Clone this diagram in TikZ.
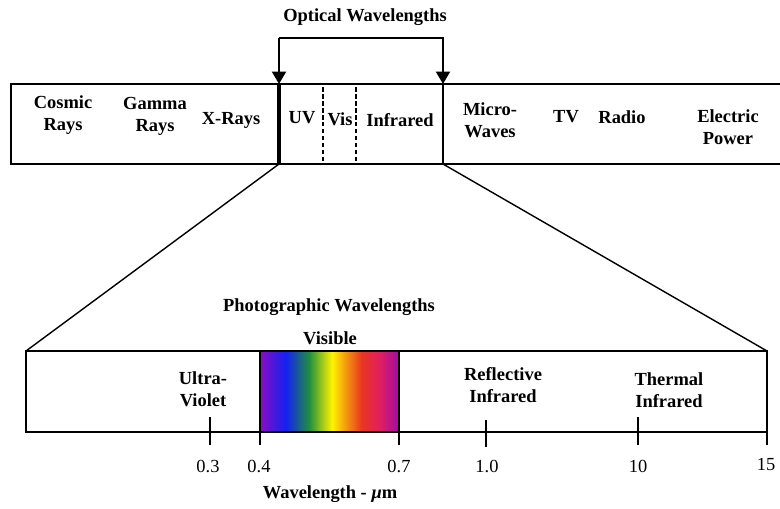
\documentclass[tikz,border=0pt]{standalone}
\usepackage{fontspec}
\setmainfont{Liberation Serif}
\usetikzlibrary{arrows.meta}
\definecolor{specviolet}{HTML}{8A0CC4}
\definecolor{specblue}{HTML}{1222F0}
\definecolor{specgreen}{HTML}{1F8F3F}
\definecolor{specyellow}{HTML}{FFF200}
\definecolor{specorange}{HTML}{F28A12}
\definecolor{specred}{HTML}{EA3422}
\definecolor{specpink}{HTML}{E01E62}
\definecolor{specpurple}{HTML}{A00CA6}

\begin{document}
\begin{tikzpicture}[
    x=0.02cm, y=-0.02cm,
    font=\fontsize{10.5}{12.5}\selectfont\bfseries,
    band/.style={line width=0.8pt},
    lbl/.style={align=center, inner sep=0pt},
    tickval/.style={font=\fontsize{10.5}{12.5}\selectfont, inner sep=0pt},
    divider/.style={line width=1.3pt, dash pattern=on 0.09cm off 0.05cm},
    arr/.style={line width=1.3pt, -{Triangle[width=0.28cm, length=0.25cm]}},
  ]
    \useasboundingbox (0,0) rectangle (780,508);

    % electromagnetic spectrum band
    \coordinate (optL) at (279,84);
    \coordinate (optR) at (443,84);
    \coordinate (optLb) at (279,164);
    \coordinate (optRb) at (443,164);
    \draw[band] (780,84) -- (11,84) -- (11,164) -- (780,164);
    \draw[line width=2.2pt] (optL) -- (optLb);
    \draw[band] (optR) -- (optRb);
    \draw[divider] (323,87) -- (323,161);
    \draw[divider] (356,87) -- (356,161);

    % optical bracket
    \coordinate (barL) at (279,38);
    \coordinate (barR) at (443,38);
    \node[lbl] (optical) at (365,17) {Optical Wavelengths};
    \draw[arr] (barL) -- (barR) -- (optR);
    \draw[arr] (barL) -- (optL);

    \node[lbl] (cosmic) at (63,115)  {Cosmic\\Rays};
    \node[lbl] (gamma)  at (155,116) {Gamma\\Rays};
    \node[lbl] (xray)   at (231,120) {X-Rays};
    \node[lbl] (uv)     at (302,118) {UV};
    \node[lbl] (vis)    at (340,119) {Vis};
    \node[lbl] (ir)     at (400,120) {Infrared};
    \node[lbl] (micro)  at (490,120) {Micro-\\Waves};
    \node[lbl] (tv)     at (566,117) {TV};
    \node[lbl] (radio)  at (622,117) {Radio};
    \node[lbl] (power)  at (728,127) {Electric\\Power};

    % expanded optical range
    \coordinate (zoomL) at (26,351);
    \coordinate (zoomR) at (767,351);
    \coordinate (zoomLb) at (26,432);
    \coordinate (zoomRb) at (767,432);
    \draw[band] (optLb) -- (zoomL);
    \draw[band] (optRb) -- (zoomR);

    \shade[left color=specviolet, right color=specblue]   (260,351) rectangle (286,432);
    \shade[left color=specblue,   right color=specgreen]  (286,351) rectangle (309,432);
    \shade[left color=specgreen,  right color=specyellow] (309,351) rectangle (332,432);
    \shade[left color=specyellow, right color=specorange] (332,351) rectangle (348,432);
    \shade[left color=specorange, right color=specred]    (348,351) rectangle (362,432);
    \shade[left color=specred,    right color=specpink]   (362,351) rectangle (380,432);
    \shade[left color=specpink,   right color=specpurple] (380,351) rectangle (399,432);
    \draw[band] (zoomL) rectangle (zoomRb);
    \draw[band] (260,351) rectangle (399,432);

    \node[lbl] (photo)   at (329,307) {Photographic Wavelengths};
    \node[lbl] (visible) at (330,338) {Visible};
    \node[lbl] (ultra)   at (203,389) {Ultra-\\Violet};
    \node[lbl] (reflir)  at (503,385) {Reflective\\Infrared};
    \node[lbl] (thermir) at (669,390) {Thermal\\Infrared};

    % wavelength scale
    \draw[band] (210,417) -- (210,445);
    \draw[band] (260,432) -- (260,445);
    \draw[band] (399,432) -- (399,445);
    \draw[band] (486,420) -- (486,447);
    \draw[band] (638,417) -- (638,445);
    \draw[band] (767,432) -- (767,445);

    \node[tickval] (t03) at (208,466) {0.3};
    \node[tickval] (t04) at (259,466) {0.4};
    \node[tickval] (t07) at (399,466) {0.7};
    \node[tickval] (t10) at (487,466) {1.0};
    \node[tickval] (t100) at (638,466) {10};
    \node[tickval] (t150) at (766,464) {15};

    \node[lbl] (axis) at (330,494) {Wavelength - \textit{μ}m};
  \end{tikzpicture}
\end{document}
